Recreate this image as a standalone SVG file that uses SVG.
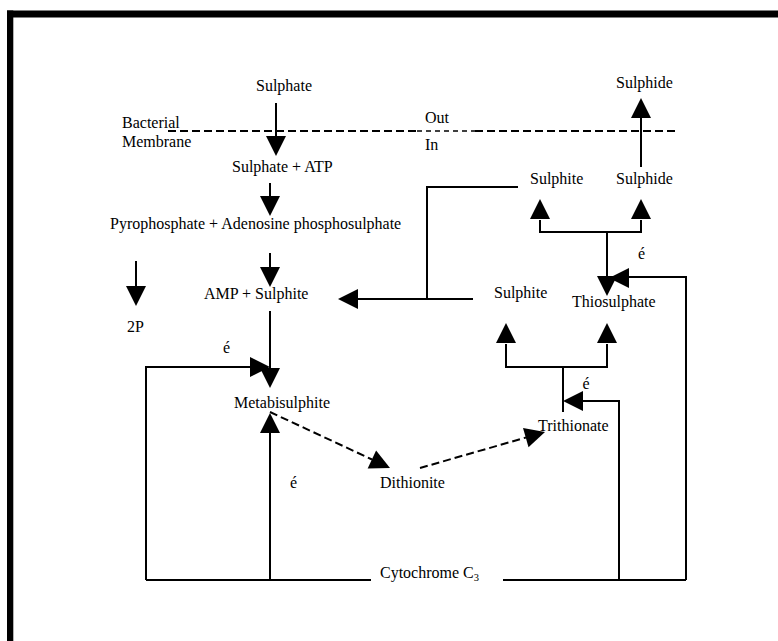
<svg xmlns="http://www.w3.org/2000/svg" width="778" height="641" viewBox="0 0 778 641">
<style>
text{font-family:"Liberation Serif","Times New Roman",serif;font-size:16px;fill:#000}
.ln{fill:none;stroke:#000;stroke-width:2}
.ds{fill:none;stroke:#000;stroke-width:2;stroke-dasharray:8 4}
.dt{fill:none;stroke:#000;stroke-width:1.3;stroke-dasharray:5 4}
.ah{fill:#000}
</style>
<defs>
<path id="ah" class="ah" d="M0,0 L-20,-10 L-20,10 Z"/>
</defs>
<rect width="778" height="641" fill="#fff"/>
<g id="frame">
<rect x="7" y="10.5" width="771" height="7" fill="#000"/>
<rect x="7" y="10.5" width="6.3" height="631" fill="#000"/>
</g>
<g id="membrane">
<path class="ds" d="M168,131 H417"/>
<path class="dt" d="M417,131 H475"/>
<path class="ds" d="M475,131 H675"/>
<text x="122" y="128">Bacterial</text>
<text x="122" y="147">Membrane</text>
<text x="425" y="122.5">Out</text>
<text x="425" y="150">In</text>
</g>
<g id="connectors">
<path class="ln" d="M276,103 V137"/>
<use href="#ah" transform="translate(276,156) rotate(90)"/>
<path class="ln" d="M270,183 V197"/>
<use href="#ah" transform="translate(270,216) rotate(90)"/>
<path class="ln" d="M270,253 V268"/>
<use href="#ah" transform="translate(270,287) rotate(90)"/>
<path class="ln" d="M136,261 V287"/>
<use href="#ah" transform="translate(136,306) rotate(90)"/>
<path class="ln" d="M270,311 V370"/>
<use href="#ah" transform="translate(270,388) rotate(90)"/>
<path class="ln" d="M146,580 V367 H251"/>
<use href="#ah" transform="translate(270,367)"/>
<path class="ln" d="M270,580 V432"/>
<use href="#ah" transform="translate(270,413) rotate(-90)"/>
<path class="ln" d="M146,580 H371 M503,580 H686"/>
<path class="ln" d="M686,580 V277 H628"/>
<use href="#ah" transform="translate(609,278) rotate(180)"/>
<path class="ln" d="M619,580 V401 H582"/>
<use href="#ah" transform="translate(563,401) rotate(180)"/>
<path class="ln" d="M563,412 V367 M506,344 V367 H607 V344"/>
<use href="#ah" transform="translate(506,323) rotate(-90)"/>
<use href="#ah" transform="translate(607,323) rotate(-90)"/>
<path class="ln" d="M540,220 V232 H641 V220 M607,232 V277"/>
<use href="#ah" transform="translate(540,199) rotate(-90)"/>
<use href="#ah" transform="translate(641,199) rotate(-90)"/>
<use href="#ah" transform="translate(607,296) rotate(90)"/>
<path class="ln" d="M641,167 V117"/>
<use href="#ah" transform="translate(641,98) rotate(-90)"/>
<path class="ln" d="M518,187 H427 V299 M473,299 H357"/>
<use href="#ah" transform="translate(338,299) rotate(180)"/>
<path class="ds" d="M270,412 L372,459.5"/>
<use href="#ah" transform="translate(390,468) rotate(25)"/>
<path class="ds" d="M420,468 L526,437.5"/>
<use href="#ah" transform="translate(545,432) rotate(-16)"/>
</g>
<g id="sulphate-out"><text x="256" y="90.5">Sulphate</text></g>
<g id="sulphide-out"><text x="616" y="88">Sulphide</text></g>
<g id="sulphate-atp"><text x="232" y="172">Sulphate + ATP</text></g>
<g id="sulphite-top"><text x="530" y="184">Sulphite</text></g>
<g id="sulphide-in"><text x="616" y="184">Sulphide</text></g>
<g id="pyrophosphate"><text x="110" y="229">Pyrophosphate + Adenosine phosphosulphate</text></g>
<g id="amp-sulphite"><text x="204" y="299">AMP + Sulphite</text></g>
<g id="p2"><text x="127" y="332">2P</text></g>
<g id="sulphite-mid"><text x="494" y="297.5">Sulphite</text></g>
<g id="thiosulphate"><text x="572" y="307">Thiosulphate</text></g>
<g id="e1"><text x="223" y="352.5">é</text></g>
<g id="e2"><text x="638" y="259">é</text></g>
<g id="metabisulphite"><text x="234" y="408">Metabisulphite</text></g>
<g id="e3"><text x="582.5" y="389">é</text></g>
<g id="trithionate"><text x="538" y="431">Trithionate</text></g>
<g id="e4"><text x="290" y="488">é</text></g>
<g id="dithionite"><text x="380" y="488">Dithionite</text></g>
<g id="cytochrome"><text x="380" y="578">Cytochrome C<tspan font-size="10.5" dy="3">3</tspan></text></g>
</svg>
